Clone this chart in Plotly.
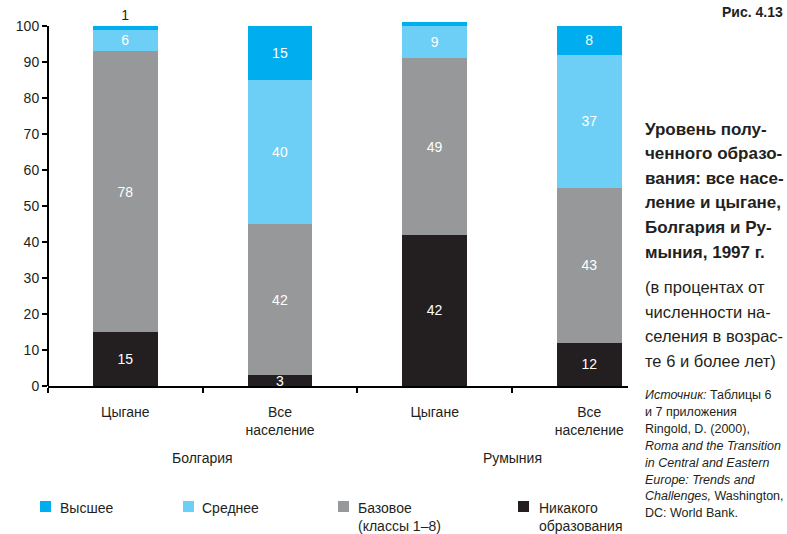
import plotly.graph_objects as go

# ---------------- data ----------------
categories = ["bg_roma", "bg_all", "ro_roma", "ro_all"]
category_labels = ["Цыгане", "Все<br>население", "Цыгане", "Все<br>население"]
countries = ["Болгария", "Румыния"]
country_centers = [0.5, 2.5]          # between the two bars of each country

series_names = ["Никакого<br>образования", "Базовое<br>(классы 1–8)", "Среднее", "Высшее"]
none_vals = [15, 3, 42, 12]
basic_vals = [78, 42, 49, 43]
secondary_vals = [6, 40, 9, 37]
higher_vals = [1, 15, 1, 8]
higher_labels = ["1", "15", "", "8"]

y_ticks = [0, 10, 20, 30, 40, 50, 60, 70, 80, 90, 100]

title_bold = ["Уровень полу-", "ченного образо-", "вания: все насе-",
              "ление и цыгане,", "Болгария и Ру-", "мыния, 1997 г."]
title_regular = ["(в процентах от", "численности на-", "селения в возрас-",
                 "те 6 и более лет)"]
source_lines = ["<i>Источник:</i> Таблицы 6", "и 7 приложения", "Ringold, D. (2000),",
                "<i>Roma and the Transition</i>", "<i>in Central and Eastern</i>",
                "<i>Europe: Trends and</i>", "<i>Challenges,</i> Washington,",
                "DC: World Bank."]
fig_label = "Рис. 4.13"

# ---------------- style ----------------
W, H = 787, 534
FONT = "Liberation Sans, Arial, sans-serif"
C_HIGH = "#00AEEF"
C_SEC = "#6DCFF6"
C_BASIC = "#97989A"
C_NONE = "#231F20"
TXT = "#231F20"
FS = 14


def px(x):
    return x / W


def py(y):
    return 1 - y / H


fig = go.Figure()

series = [
    (series_names[0], none_vals, C_NONE, [str(v) for v in none_vals], "inside"),
    (series_names[1], basic_vals, C_BASIC, [str(v) for v in basic_vals], "inside"),
    (series_names[2], secondary_vals, C_SEC, [str(v) for v in secondary_vals], "inside"),
    (series_names[3], higher_vals, C_HIGH, higher_labels,
     ["outside", "inside", "inside", "inside"]),
]

for name, vals, color, labels, tpos in series:
    fig.add_trace(go.Bar(
        x=categories, y=vals, name=name,
        marker=dict(color=color, line=dict(width=0)),
        width=0.42,
        text=labels, textposition=tpos,
        textangle=0,
        insidetextanchor="middle",
        constraintext="none",
        insidetextfont=dict(family=FONT, size=FS, color="white"),
        outsidetextfont=dict(family=FONT, size=FS, color=TXT),
        cliponaxis=False,
        showlegend=False,
        hoverinfo="skip",
    ))

annotations = []
shapes = []

# country labels under the groups
for cname, cx in zip(countries, country_centers):
    annotations.append(dict(x=cx, xref="x", y=py(458), yref="paper",
                            text=cname, showarrow=False, xanchor="center",
                            yanchor="middle",
                            font=dict(family=FONT, size=FS, color=TXT)))

# legend (drawn manually to match the reference spacing)
legend_items = [
    ("Высшее", C_HIGH, 40, 58),
    ("Среднее", C_SEC, 183, 200),
    (series_names[1], C_BASIC, 338, 356),
    (series_names[0], C_NONE, 518, 537),
]
for text, color, sx, tx in legend_items:
    shapes.append(dict(type="rect", xref="paper", yref="paper",
                       x0=px(sx), x1=px(sx + 11), y0=py(512), y1=py(501),
                       fillcolor=color, line=dict(width=0)))
    annotations.append(dict(x=px(tx), y=py(498), xref="paper", yref="paper",
                            text=text, showarrow=False, xanchor="left",
                            yanchor="top", align="left",
                            font=dict(family=FONT, size=FS, color=TXT)))

# right-hand text block
annotations.append(dict(x=px(785), y=py(12), xref="paper", yref="paper",
                        text="<b>" + fig_label + "</b>", showarrow=False,
                        xanchor="right", yanchor="middle",
                        font=dict(family=FONT, size=FS, color=TXT)))
for i, line in enumerate(title_bold):
    annotations.append(dict(x=px(643), y=py(129 + i * 24.6), xref="paper", yref="paper",
                            text="<b>" + line + "</b>", showarrow=False,
                            xanchor="left", yanchor="middle",
                            font=dict(family=FONT, size=17, color=TXT)))
for i, line in enumerate(title_regular):
    annotations.append(dict(x=px(643), y=py(287 + i * 24.6), xref="paper", yref="paper",
                            text=line, showarrow=False,
                            xanchor="left", yanchor="middle",
                            font=dict(family=FONT, size=16.5, color=TXT)))
for i, line in enumerate(source_lines):
    annotations.append(dict(x=px(643), y=py(395 + i * 16.9), xref="paper", yref="paper",
                            text=line, showarrow=False,
                            xanchor="left", yanchor="middle",
                            font=dict(family=FONT, size=12.5, color=TXT)))

# y axis line (only from 0 to 100)
shapes.append(dict(type="line", xref="paper", yref="y",
                   x0=px(48), x1=px(48), y0=0, y1=100,
                   line=dict(color="black", width=2)))

fig.update_layout(
    width=W, height=H,
    autosize=False,
    margin=dict(l=0, r=0, t=0, b=0, pad=0, autoexpand=False),
    barmode="stack",
    paper_bgcolor="white", plot_bgcolor="white",
    font=dict(family=FONT, size=FS, color=TXT),
    xaxis=dict(
        domain=[px(48), px(628)],
        type="category",
        range=[-0.5, 3.25],
        tickmode="array", tickvals=categories, ticktext=category_labels,
        tickson="boundaries",
        ticks="outside", ticklen=5, tickwidth=1.5, tickcolor="black",
        showline=True, linecolor="black", linewidth=2,
        showgrid=False, zeroline=False,
        ticklabelstandoff=12,
        automargin=False,
        tickfont=dict(family=FONT, size=FS, color=TXT),
        fixedrange=True,
    ),
    yaxis=dict(
        domain=[py(386), py(20.6)],
        range=[0, 101.5],
        tickmode="array", tickvals=y_ticks,
        ticks="outside", ticklen=5, tickwidth=1.5, tickcolor="black",
        showline=False, showgrid=False, zeroline=False,
        automargin=False,
        tickfont=dict(family=FONT, size=FS, color=TXT),
        fixedrange=True,
    ),
    annotations=annotations,
    shapes=shapes,
)

fig.write_html("out.html", config={"displayModeBar": False},
               post_script="document.body.style.margin='0';")
